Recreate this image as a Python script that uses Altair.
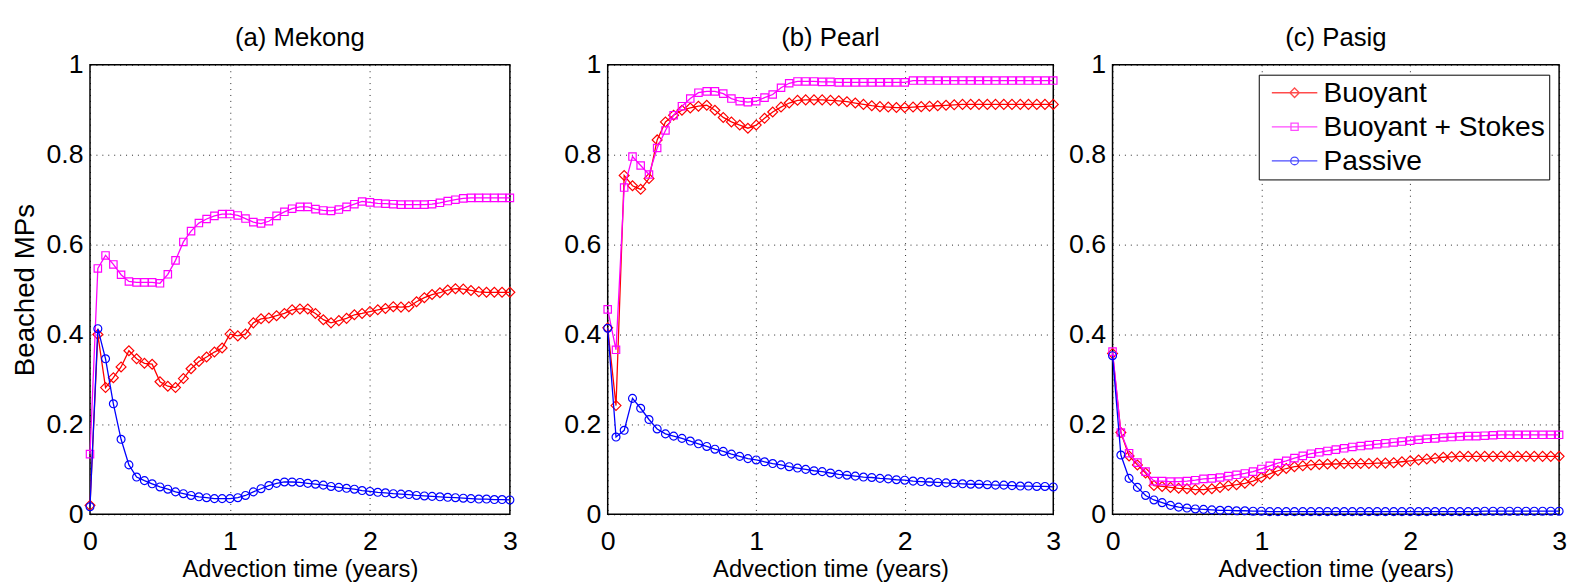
import altair as alt
import pandas as pd

# ---------------- data ----------------
t_years = [0.0, 0.056, 0.111, 0.167, 0.222, 0.278, 0.333, 0.389, 0.444, 0.5,
           0.556, 0.611, 0.667, 0.722, 0.778, 0.833, 0.889, 0.944, 1.0, 1.056,
           1.111, 1.167, 1.222, 1.278, 1.333, 1.389, 1.444, 1.5, 1.556, 1.611,
           1.667, 1.722, 1.778, 1.833, 1.889, 1.944, 2.0, 2.056, 2.111, 2.167,
           2.222, 2.278, 2.333, 2.389, 2.444, 2.5, 2.556, 2.611, 2.667, 2.722,
           2.778, 2.833, 2.889, 2.944, 3.0]

mekong_buoyant = [0.02, 0.40, 0.282, 0.304, 0.328, 0.364, 0.346, 0.336, 0.334, 0.295,
                  0.285, 0.282, 0.302, 0.324, 0.340, 0.350, 0.361, 0.370, 0.401, 0.397,
                  0.401, 0.426, 0.435, 0.437, 0.442, 0.447, 0.455, 0.457, 0.457, 0.447,
                  0.433, 0.426, 0.431, 0.436, 0.444, 0.447, 0.451, 0.455, 0.458, 0.462,
                  0.461, 0.462, 0.473, 0.482, 0.489, 0.493, 0.499, 0.502, 0.501, 0.498,
                  0.495, 0.494, 0.494, 0.494, 0.494]
mekong_stokes = [0.134, 0.547, 0.576, 0.556, 0.533, 0.518, 0.516, 0.516, 0.516, 0.514,
                 0.534, 0.565, 0.606, 0.630, 0.648, 0.657, 0.664, 0.668, 0.668, 0.665,
                 0.658, 0.650, 0.647, 0.652, 0.664, 0.673, 0.680, 0.684, 0.684, 0.679,
                 0.676, 0.675, 0.678, 0.684, 0.690, 0.696, 0.694, 0.692, 0.691, 0.690,
                 0.689, 0.689, 0.689, 0.689, 0.690, 0.693, 0.697, 0.700, 0.703, 0.704,
                 0.704, 0.704, 0.704, 0.704, 0.704]
mekong_passive = [0.017, 0.413, 0.346, 0.246, 0.167, 0.110, 0.083, 0.075, 0.068, 0.061,
                  0.056, 0.050, 0.046, 0.042, 0.039, 0.037, 0.035, 0.035, 0.035, 0.037,
                  0.042, 0.050, 0.057, 0.064, 0.069, 0.072, 0.072, 0.071, 0.069, 0.067,
                  0.065, 0.062, 0.060, 0.058, 0.056, 0.053, 0.051, 0.049, 0.048, 0.046,
                  0.045, 0.044, 0.042, 0.041, 0.040, 0.039, 0.038, 0.037, 0.036, 0.035,
                  0.034, 0.034, 0.033, 0.033, 0.032]

pearl_buoyant = [0.415, 0.242, 0.754, 0.731, 0.723, 0.747, 0.833, 0.873, 0.888, 0.899,
                 0.904, 0.908, 0.910, 0.899, 0.883, 0.873, 0.866, 0.859, 0.866, 0.881,
                 0.895, 0.906, 0.915, 0.921, 0.922, 0.922, 0.922, 0.921, 0.920, 0.918,
                 0.915, 0.912, 0.909, 0.907, 0.906, 0.905, 0.905, 0.906, 0.907, 0.908,
                 0.909, 0.910, 0.911, 0.912, 0.912, 0.912, 0.912, 0.912, 0.912, 0.912,
                 0.912, 0.912, 0.912, 0.912, 0.912]
pearl_stokes = [0.456, 0.366, 0.727, 0.796, 0.776, 0.756, 0.815, 0.854, 0.888, 0.908,
                0.925, 0.938, 0.941, 0.941, 0.936, 0.925, 0.919, 0.917, 0.919, 0.927,
                0.934, 0.949, 0.959, 0.963, 0.963, 0.963, 0.962, 0.962, 0.961, 0.961,
                0.961, 0.961, 0.961, 0.961, 0.961, 0.961, 0.961, 0.965, 0.965, 0.965,
                0.965, 0.965, 0.965, 0.965, 0.965, 0.965, 0.965, 0.965, 0.965, 0.965,
                0.965, 0.965, 0.965, 0.965, 0.965]
pearl_passive = [0.414, 0.172, 0.187, 0.258, 0.236, 0.211, 0.190, 0.179, 0.174, 0.169,
                 0.163, 0.157, 0.151, 0.145, 0.140, 0.134, 0.129, 0.124, 0.121, 0.117,
                 0.113, 0.110, 0.106, 0.103, 0.100, 0.097, 0.095, 0.092, 0.089, 0.087,
                 0.085, 0.083, 0.082, 0.080, 0.079, 0.077, 0.076, 0.074, 0.073, 0.072,
                 0.071, 0.070, 0.069, 0.068, 0.067, 0.067, 0.066, 0.065, 0.065, 0.064,
                 0.063, 0.063, 0.062, 0.062, 0.061]

pasig_buoyant = [0.358, 0.182, 0.130, 0.110, 0.092, 0.064, 0.062, 0.060, 0.058, 0.057,
                 0.055, 0.055, 0.057, 0.060, 0.064, 0.066, 0.069, 0.074, 0.082, 0.090,
                 0.097, 0.102, 0.106, 0.108, 0.110, 0.111, 0.112, 0.112, 0.113, 0.113,
                 0.113, 0.113, 0.114, 0.114, 0.115, 0.117, 0.119, 0.121, 0.123, 0.125,
                 0.127, 0.128, 0.129, 0.129, 0.129, 0.129, 0.129, 0.129, 0.129, 0.129,
                 0.129, 0.129, 0.129, 0.129, 0.129]
pasig_stokes = [0.362, 0.182, 0.136, 0.115, 0.095, 0.074, 0.074, 0.073, 0.073, 0.074,
                0.076, 0.079, 0.080, 0.082, 0.085, 0.088, 0.091, 0.095, 0.101, 0.108,
                0.114, 0.119, 0.125, 0.130, 0.135, 0.138, 0.141, 0.144, 0.147, 0.150,
                0.152, 0.154, 0.156, 0.158, 0.160, 0.162, 0.164, 0.166, 0.168, 0.169,
                0.171, 0.172, 0.173, 0.174, 0.174, 0.175, 0.176, 0.177, 0.177, 0.177,
                0.177, 0.177, 0.177, 0.177, 0.177]
pasig_passive = [0.353, 0.132, 0.080, 0.060, 0.042, 0.032, 0.026, 0.020, 0.016, 0.014,
                 0.012, 0.011, 0.010, 0.009, 0.009, 0.008, 0.008, 0.007, 0.007, 0.006,
                 0.006, 0.006, 0.006, 0.006, 0.006, 0.006, 0.006, 0.006, 0.006, 0.006,
                 0.006, 0.006, 0.006, 0.006, 0.006, 0.006, 0.006, 0.006, 0.006, 0.006,
                 0.006, 0.006, 0.006, 0.006, 0.006, 0.007, 0.007, 0.007, 0.007, 0.007,
                 0.007, 0.007, 0.007, 0.007, 0.007]

panel_titles = ["(a) Mekong", "(b) Pearl", "(c) Pasig"]
series_names = ["Buoyant", "Buoyant + Stokes", "Passive"]
x_ticks = [0, 1, 2, 3]
y_ticks = [0, 0.2, 0.4, 0.6, 0.8, 1]

# ---------------- styling ----------------
FONT = "Liberation Sans"
series_colors = ["#ff0000", "#ff00ff", "#0000ff"]
marker_shapes = ["diamond", "square", "circle"]
marker_sizes = [100, 56, 64]
# legend symbols: a line with the marker in the middle (unit box, size 26px)
legend_paths = [
    "M-1.77,0L1.77,0M0,-0.37L0.37,0L0,0.37L-0.37,0Z",
    "M-1.77,0L1.77,0M-0.28,-0.28L0.28,-0.28L0.28,0.28L-0.28,0.28Z",
    "M-1.77,0L1.77,0M0.3,0A0.3,0.3,0,1,1,-0.3,0A0.3,0.3,0,1,1,0.3,0Z",
]


def long_df(b, bs, p):
    rows = []
    for name, vals in zip(series_names, [b, bs, p]):
        for t, v in zip(t_years, vals):
            rows.append({"t": t, "v": v, "series": name})
    return pd.DataFrame(rows)


def panel(df, title, width, show_ytitle, with_legend):
    x = alt.X("t:Q", scale=alt.Scale(domain=[0, 3], nice=False, zero=False),
              axis=alt.Axis(values=x_ticks, format="d", title="Advection time (years)",
                            labelPadding=15, titlePadding=3, titleFontSize=24))
    y = alt.Y("v:Q", scale=alt.Scale(domain=[0, 1], nice=False),
              axis=alt.Axis(values=y_ticks, format="~g", labelPadding=7, titlePadding=7,
                            titleFontSize=28,
                            title="Beached MPs" if show_ytitle else None))
    base = alt.Chart(df)
    layers = []
    for name, col, shp, sz in zip(series_names, series_colors, marker_shapes, marker_sizes):
        sub = base.transform_filter(alt.datum.series == name)
        layers.append(sub.mark_line(color=col, strokeWidth=1.3).encode(x=x, y=y))
        layers.append(sub.mark_point(shape=shp, size=sz, color=col, filled=False,
                                     strokeWidth=1.2, opacity=1).encode(x=x, y=y))
    if with_legend:
        leg = base.transform_filter("false").mark_point(filled=False).encode(
            x=x, y=y,
            color=alt.Color("series:N",
                            scale=alt.Scale(domain=series_names, range=series_colors),
                            legend=alt.Legend(title=None)),
            shape=alt.Shape("series:N",
                            scale=alt.Scale(domain=series_names, range=legend_paths),
                            legend=alt.Legend(
                                title=None, orient="top-right", offset=10,
                                strokeColor="black", fillColor="white", padding=4,
                                labelFont=FONT, labelFontSize=28.5, labelColor="black",
                                labelLimit=0,
                                symbolSize=676, symbolStrokeWidth=1.3,
                                symbolFillColor="transparent", symbolOffset=18,
                                labelOffset=15, rowPadding=5.5)),
        )
        layers.append(leg)
    return alt.layer(*layers).properties(
        width=width, height=455,
        title=alt.TitleParams(title, font=FONT, fontSize=26, fontWeight="normal",
                              color="black", offset=0))


pa = panel(long_df(mekong_buoyant, mekong_stokes, mekong_passive), panel_titles[0], 425, True, False)
pb = panel(long_df(pearl_buoyant, pearl_stokes, pearl_passive), panel_titles[1], 451, False, False)
pc = panel(long_df(pasig_buoyant, pasig_stokes, pasig_passive), panel_titles[2], 452, False, True)

inner = alt.hconcat(pb, pc, spacing=60, bounds="flush").resolve_scale(color="independent", shape="independent")
chart = alt.hconcat(pa, inner, spacing=99, bounds="flush").resolve_scale(
    color="independent", shape="independent"
).properties(
    padding={"left": 2, "top": 13, "right": 0, "bottom": 0}, background="white"
).configure_view(
    stroke="black", strokeWidth=1.5
).configure_axis(
    labelFont=FONT, labelFontSize=27, labelColor="black",
    titleFont=FONT, titleFontSize=26, titleFontWeight="normal", titleColor="black",
    grid=True, gridColor="black", gridDash=[1, 5], gridWidth=1, gridOpacity=0.85,
    domain=False, ticks=False, labelFlush=False, labelOverlap=False,
)

chart.save("out.html", embed_options={"renderer": "svg", "actions": False})
